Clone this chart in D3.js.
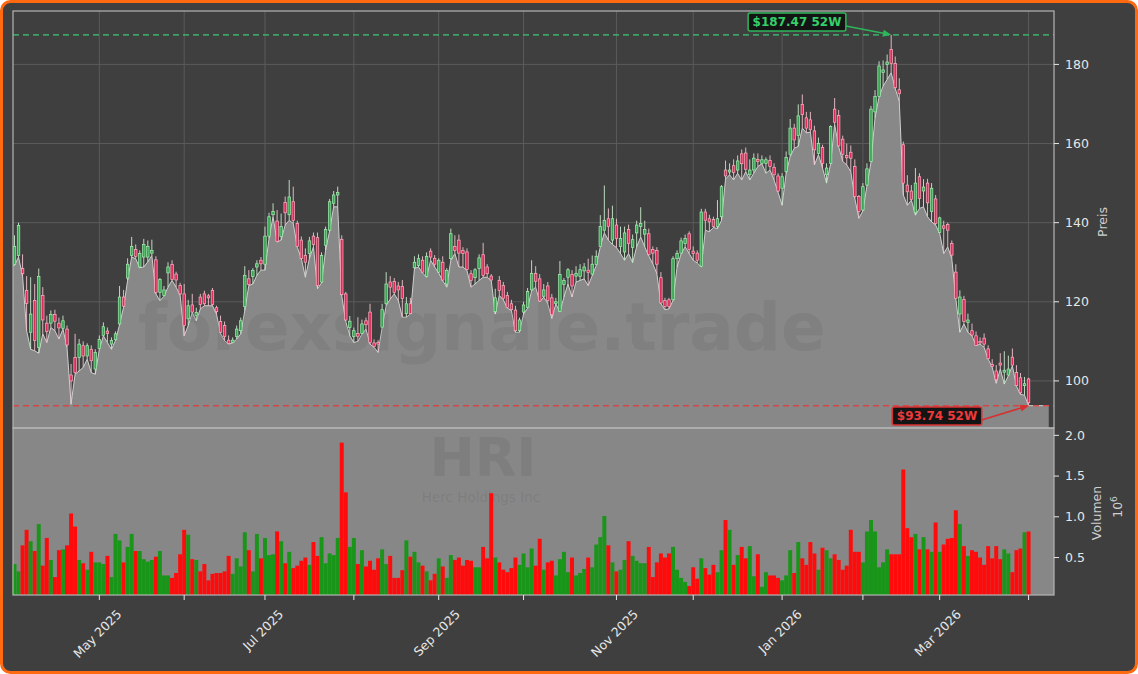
<!DOCTYPE html>
<html><head><meta charset="utf-8">
<script src="https://cdn.jsdelivr.net/npm/d3@7"></script>
<style>body{margin:0;background:#fff}svg{display:block}text{font-family:"DejaVu Sans",sans-serif}</style>
</head><body><svg id="c" width="1138" height="674"></svg>
<script>
// ---- data (HRI daily, 1 year) ----
const ticker = "HRI";
const companyName = "Herc Holdings Inc";
const watermarkText = "forexsignale.trade";
const startDate = "2025-04-01";
const holidays = ["2025-04-18","2025-05-26","2025-06-19","2025-07-04","2025-09-01","2025-11-27","2025-12-25","2026-01-01","2026-01-19","2026-02-16"];
const monthLabels = ["May 2025","Jul 2025","Sep 2025","Nov 2025","Jan 2026","Mar 2026"];
const priceTicks = [100,120,140,160,180];
const volumeTicks = [0.5,1.0,1.5,2.0];

const opens = [129.4,131.7,128.4,122.9,112.3,120.3,108.5,121.6,114.6,114.6,116.8,114.6,113.3,113.1,101.5,105.9,105.9,108.9,106.3,108.0,
103.0,108.2,111.5,112.6,109.3,110.4,114.4,121.2,126.0,131.7,133.2,128.8,131.3,131.3,132.3,130.6,122.4,121.6,127.3,129.4,
127.0,124.1,122.0,115.7,119.2,116.5,121.2,122.0,121.5,122.9,118.5,115.0,114.0,110.3,109.7,111.2,112.7,118.8,125.8,126.4,
128.8,130.5,129.5,136.6,142.0,140.4,136.5,145.1,142.0,145.3,139.8,135.6,131.7,132.2,136.6,136.2,125.0,134.3,138.1,144.9,
147.0,135.8,122.0,113.5,111.2,112.0,112.0,115.2,117.4,109.6,109.7,113.6,119.5,125.0,125.1,124.0,123.9,117.0,119.5,128.6,
129.2,130.5,126.4,132.8,131.0,127.5,130.0,124.5,130.9,134.0,135.6,133.0,132.6,127.1,126.1,128.4,131.9,128.8,126.5,117.5,
125.4,124.1,121.6,119.5,117.9,112.7,117.4,118.6,123.0,127.2,125.8,121.4,124.0,121.0,119.6,117.6,124.4,126.2,126.9,126.5,
126.4,127.8,128.0,127.0,129.4,134.0,138.1,141.0,135.6,139.4,134.0,132.6,138.3,133.7,137.4,139.0,137.1,137.2,133.2,133.0,
126.1,120.3,120.5,120.5,130.9,132.3,134.7,137.2,132.8,132.3,129.0,142.7,141.0,140.8,139.0,141.5,153.3,152.8,154.4,153.3,
157.4,157.6,152.1,153.3,156.0,155.0,155.0,155.7,154.0,151.8,148.7,152.9,157.3,163.9,162.0,169.9,166.5,166.0,163.2,157.5,
159.0,152.1,155.0,168.7,167.1,161.1,157.0,157.8,154.2,146.6,143.2,149.5,155.5,168.0,171.9,178.0,180.0,183.8,180.2,173.6,
159.7,149.5,148.0,142.5,151.6,148.0,150.0,142.8,146.0,137.5,139.2,139.5,134.7,127.5,116.9,120.6,114.8,112.7,111.4,110.0,
110.8,108.1,104.2,102.5,104.5,102.2,101.5,106.0,102.1,100.8,98.8,100.5];
const highs = [136.8,140.0,132.0,126.5,126.2,124.5,128.4,123.7,116.5,117.8,118.0,116.0,116.5,114.0,104.3,111.9,110.6,110.0,109.5,109.0,
108.0,111.5,114.8,113.5,111.0,112.5,124.0,123.0,131.0,136.4,134.5,133.0,135.9,135.5,135.7,131.5,126.0,124.0,130.0,130.5,
127.6,124.8,124.5,120.5,122.0,118.5,122.0,122.8,122.0,123.5,119.0,116.5,115.0,111.5,111.0,114.0,116.0,129.0,128.0,128.5,
130.5,131.3,139.0,142.5,144.9,143.2,142.3,146.6,150.8,149.1,140.5,136.5,133.5,136.4,137.5,137.5,132.5,139.0,146.0,148.0,
149.1,136.8,122.5,116.4,113.5,116.1,115.5,116.0,119.5,110.5,110.3,119.5,127.5,126.5,126.0,125.0,125.5,121.2,121.0,131.5,
132.0,131.5,132.5,133.5,131.8,131.0,131.5,128.5,138.5,136.8,137.0,133.8,133.5,128.0,128.5,132.0,134.9,129.5,127.0,123.3,
126.5,125.0,122.5,120.5,119.0,116.0,120.0,123.5,130.5,129.0,127.0,124.5,125.0,122.0,121.0,130.3,126.0,128.5,128.0,129.0,
129.5,129.8,130.9,131.7,133.0,141.9,149.4,143.6,144.3,141.0,139.0,139.0,139.5,137.0,140.5,143.9,140.5,138.5,134.0,133.8,
127.5,121.0,121.0,131.5,133.0,136.2,137.0,137.8,134.0,133.0,143.5,143.5,142.0,141.5,145.7,149.5,155.7,155.0,156.0,157.0,
158.5,159.0,156.0,157.5,157.5,157.0,156.5,157.0,155.0,152.5,152.5,158.0,166.2,165.0,169.9,172.4,168.0,168.0,164.5,161.5,
159.7,155.0,164.6,171.5,168.5,162.0,160.0,159.5,156.0,147.0,150.0,155.0,169.5,173.5,180.8,181.0,182.5,187.47,182.0,176.5,
160.5,152.0,149.5,153.8,152.5,151.0,151.1,150.0,147.0,141.5,140.5,140.0,135.5,129.5,122.9,121.5,117.0,114.5,112.5,111.0,
112.0,109.0,105.5,104.0,107.0,107.5,106.4,108.2,104.0,102.0,101.0,100.8];
const lows = [129.2,131.3,126.5,112.7,108.0,107.6,107.0,111.9,109.7,113.5,112.7,110.6,113.1,108.5,94.1,101.7,102.5,103.4,105.5,102.1,
101.7,108.0,111.4,109.7,108.0,110.2,114.2,118.6,125.4,131.3,130.9,128.6,128.8,130.1,131.7,122.0,120.3,121.4,123.7,125.4,
123.7,121.6,111.4,114.0,117.3,115.2,118.2,119.0,119.0,119.0,116.9,112.0,110.2,109.3,109.6,110.6,111.9,117.8,124.1,124.5,
126.7,128.0,128.0,136.0,141.5,135.1,135.6,139.4,140.6,139.8,133.8,130.9,126.2,130.9,133.9,123.3,124.8,133.0,137.9,144.0,
144.0,121.5,115.0,111.4,109.7,110.0,111.8,113.1,109.3,108.5,107.2,113.5,119.0,120.7,122.0,120.3,116.1,116.1,116.9,128.4,
128.8,127.3,126.2,130.5,128.8,127.3,125.3,123.7,130.5,132.2,128.8,128.8,127.9,123.7,124.5,125.4,126.2,126.2,125.4,116.9,
121.6,120.5,118.4,117.8,112.3,112.3,116.9,118.4,122.8,123.7,120.0,121.2,119.5,115.8,119.5,117.4,121.2,124.5,121.2,125.0,
125.4,125.8,124.1,126.6,129.2,133.9,137.4,135.6,134.5,133.7,132.2,130.5,132.2,129.9,133.9,136.4,133.9,131.6,129.6,127.1,
119.5,118.0,118.2,120.3,128.8,132.1,133.9,132.2,130.5,129.8,128.8,138.1,137.7,138.8,138.5,140.6,151.0,152.1,150.8,152.5,
150.8,152.9,150.8,152.5,154.2,154.9,152.5,153.3,150.8,147.7,144.4,152.5,156.7,158.8,159.3,163.9,162.7,162.9,154.6,157.2,
153.8,150.0,154.8,164.8,159.2,155.5,154.6,152.9,146.1,141.1,143.0,149.3,155.3,166.5,171.8,174.5,176.2,177.9,173.9,170.7,
147.0,144.4,145.7,141.9,143.6,144.0,141.5,140.2,139.4,137.3,132.2,133.9,130.9,120.8,112.3,114.4,112.3,111.4,108.9,109.3,
108.5,105.5,103.5,99.4,103.0,99.2,101.3,103.8,98.7,96.6,96.4,93.74];
const closes = [134.0,139.3,127.1,119.6,116.9,110.2,126.4,115.4,112.5,116.8,115.1,113.4,115.2,109.1,100.0,102.1,109.3,106.3,108.9,105.1,
107.2,110.5,113.7,112.0,110.2,111.9,121.2,118.9,129.5,134.0,131.5,132.2,134.5,134.0,133.0,122.4,125.6,123.0,128.8,125.6,
125.5,122.0,114.0,119.0,117.4,117.3,119.3,119.5,121.0,119.3,117.5,112.3,111.2,109.5,110.3,113.1,115.2,126.7,124.4,127.9,
129.6,129.6,136.6,141.5,142.8,135.3,139.0,142.5,146.5,140.6,134.0,130.9,130.0,135.4,134.5,124.1,131.7,138.3,145.3,147.0,
147.6,121.8,115.4,115.1,112.7,111.3,114.4,114.2,109.7,108.7,109.3,118.0,124.5,123.7,122.4,123.0,120.8,119.5,117.0,130.0,
130.9,127.5,131.5,131.3,129.5,130.5,125.5,127.9,137.2,133.0,132.3,132.2,128.2,125.4,128.1,131.1,126.7,127.1,125.5,121.0,
122.9,120.8,118.6,118.0,112.7,115.4,119.2,122.6,127.2,125.2,120.2,123.0,120.3,116.8,120.0,126.9,125.4,128.1,124.0,127.2,
128.1,128.8,127.4,129.5,131.5,139.0,140.6,139.0,141.0,136.0,136.0,137.4,134.7,135.7,139.4,139.8,138.3,131.9,132.3,129.5,
119.7,118.8,118.8,130.9,132.2,135.4,136.0,133.2,132.2,130.5,142.7,140.6,140.2,139.0,141.0,149.1,151.8,153.3,152.7,155.6,
154.9,153.5,153.3,156.3,155.5,155.9,155.9,154.2,152.1,148.0,151.6,156.5,163.9,160.9,167.0,167.3,163.9,163.5,158.4,160.0,
155.0,153.8,164.3,165.4,159.4,157.3,156.4,156.3,146.6,142.8,149.1,153.6,168.7,171.9,179.6,178.6,180.6,180.2,174.1,172.6,
150.0,147.8,145.9,150.0,146.1,149.0,145.0,148.7,139.8,141.2,138.6,138.1,131.8,120.9,121.2,115.0,115.4,111.6,109.0,109.6,
109.3,105.6,103.7,100.3,104.0,102.7,103.0,104.0,98.8,97.0,99.3,94.5];
// volume in millions of shares
const volumes = [0.42,0.33,0.65,0.84,0.70,0.58,0.91,0.40,0.74,0.47,0.26,0.59,0.60,0.65,1.04,0.88,0.47,0.43,0.35,0.57,
0.44,0.44,0.42,0.52,0.26,0.79,0.71,0.44,0.63,0.79,0.58,0.58,0.48,0.45,0.47,0.51,0.58,0.28,0.28,0.25,
0.31,0.54,0.84,0.78,0.48,0.47,0.33,0.42,0.22,0.30,0.31,0.31,0.33,0.52,0.30,0.49,0.39,0.81,0.59,0.33,
0.79,0.49,0.74,0.53,0.54,0.82,0.70,0.43,0.57,0.37,0.40,0.46,0.50,0.41,0.69,0.52,0.75,0.43,0.55,0.53,
0.74,1.91,1.30,0.63,0.74,0.42,0.59,0.39,0.46,0.35,0.49,0.60,0.42,0.52,0.25,0.25,0.345,0.71,0.51,0.57,
0.44,0.40,0.33,0.22,0.30,0.49,0.39,0.25,0.53,0.47,0.50,0.40,0.47,0.46,0.38,0.38,0.63,0.49,1.29,0.50,
0.44,0.35,0.32,0.37,0.50,0.41,0.55,0.38,0.61,0.40,0.73,0.35,0.44,0.46,0.28,0.48,0.57,0.32,0.50,0.28,
0.31,0.36,0.50,0.38,0.66,0.75,1.01,0.65,0.44,0.33,0.35,0.47,0.70,0.52,0.46,0.43,0.43,0.63,0.26,0.44,
0.55,0.50,0.55,0.63,0.35,0.25,0.20,0.15,0.38,0.24,0.49,0.37,0.29,0.41,0.32,0.59,0.96,0.84,0.41,0.53,
0.63,0.49,0.64,0.27,0.54,0.14,0.32,0.28,0.28,0.25,0.22,0.28,0.59,0.31,0.69,0.49,0.41,0.69,0.55,0.35,
0.62,0.59,0.49,0.54,0.47,0.35,0.40,0.84,0.57,0.57,0.44,0.82,0.96,0.82,0.38,0.44,0.60,0.54,0.54,0.54,
1.58,0.86,0.75,0.79,0.60,0.75,0.60,0.57,0.93,0.57,0.66,0.73,0.74,1.08,0.91,0.64,0.52,0.59,0.57,0.50,
0.41,0.64,0.49,0.64,0.48,0.60,0.55,0.32,0.59,0.61,0.81,0.82];

// ---- trading calendar ----
const parse = d3.timeParse("%Y-%m-%d"), fmtKey = d3.timeFormat("%Y-%m-%d");
const hol = new Set(holidays);
const dates = [];
for (let d = parse(startDate); dates.length < closes.length; d = d3.timeDay.offset(d, 1)) {
  const wd = d.getDay();
  if (wd !== 0 && wd !== 6 && !hol.has(fmtKey(d))) dates.push(d);
}
const rows = closes.map((c, i) => ({i, date: dates[i], o: opens[i], h: highs[i], l: lows[i], c, v: volumes[i]}));

// ---- layout ----
const W = 1138, H = 674;
const L = 13, R = 1054, PT = 11, PB = 428, VT = 428, VB = 595;
const svg = d3.select("#c");
const x = d3.scaleLinear().domain([-0.37, 257.3]).range([L, R]);
const yP = d3.scaleLinear().domain([88.1, 193.5]).range([PB, PT]);
const yV = d3.scaleLinear().domain([0.04, 2.09]).range([VB, VT]);
const step = x(1) - x(0);

const bgCol = "#3f3f3f", gridCol = "#5b5b5b", textCol = "#e6e6e6", spineCol = "#b4b4b4";

svg.append("rect").attr("x",1.5).attr("y",1.5).attr("width",W-3).attr("height",H-3)
  .attr("rx",9).attr("fill",bgCol).attr("stroke","#ff6a10").attr("stroke-width",3);

// month ticks
const monthIdx = rows.filter((r, k) => k > 0 && r.date.getMonth() !== rows[k-1].date.getMonth()).map(r => r.i);
const fmtMonth = d3.timeFormat("%b %Y");

// price panel grid
const gP = svg.append("g");
gP.selectAll("line.vg").data(monthIdx).join("line")
  .attr("x1", d => x(d)).attr("x2", d => x(d)).attr("y1", PT).attr("y2", PB)
  .attr("stroke", gridCol).attr("stroke-width", 1);
gP.selectAll("line.hg").data(priceTicks).join("line")
  .attr("x1", L).attr("x2", R).attr("y1", d => yP(d)).attr("y2", d => yP(d))
  .attr("stroke", gridCol).attr("stroke-width", 1);

// area of lows
const areaPts = [{i: -0.37, l: lows[0]}].concat(rows.map(r => ({i: r.i, l: r.l})), [{i: 256, l: lows[lows.length-1]}]);
const area = d3.area().x(d => x(d.i)).y0(PB).y1(d => yP(d.l));
gP.append("path").datum(areaPts).attr("d", area).attr("fill", "#888888");
gP.append("path").datum(areaPts).attr("d", d3.line().x(d => x(d.i)).y(d => yP(d.l)))
  .attr("fill", "none").attr("stroke", "#cfcfcf").attr("stroke-width", 1);

// watermark
svg.append("text").attr("x", 482).attr("y", 350).attr("text-anchor", "middle")
  .attr("font-size", 66).attr("font-weight", "bold").attr("fill", "#404040").attr("fill-opacity", 0.11)
  .text(watermarkText);

// 52W lines
const hi = d3.max(highs), lo = d3.min(lows);
const hiIdx = highs.indexOf(hi), loIdx = lows.indexOf(lo);
svg.append("line").attr("x1", L).attr("x2", R).attr("y1", yP(hi)).attr("y2", yP(hi))
  .attr("stroke", "#3cb36a").attr("stroke-width", 1.6).attr("stroke-dasharray", "6,4").attr("opacity", 0.85);
svg.append("line").attr("x1", L).attr("x2", R).attr("y1", yP(lo)).attr("y2", yP(lo))
  .attr("stroke", "#e03c3c").attr("stroke-width", 1.6).attr("stroke-dasharray", "6,4").attr("opacity", 0.85);

// candles
const up = r => r.c >= r.o;
const gC = svg.append("g");
gC.selectAll("line").data(rows).join("line")
  .attr("x1", r => x(r.i)).attr("x2", r => x(r.i)).attr("y1", r => yP(r.h)).attr("y2", r => yP(r.l))
  .attr("stroke", r => up(r) ? "#c9ebcd" : "#f2c4cf").attr("stroke-width", 0.9);
const bw = step * 0.62;
gC.selectAll("rect").data(rows).join("rect")
  .attr("x", r => x(r.i) - bw/2).attr("width", bw)
  .attr("y", r => yP(Math.max(r.o, r.c)))
  .attr("height", r => Math.max(1, Math.abs(yP(r.o) - yP(r.c))))
  .attr("fill", r => up(r) ? "#3aa655" : "#dc2c5a")
  .attr("stroke", r => up(r) ? "#a6eeb2" : "#ffb0c2").attr("stroke-width", 0.7);

// volume panel
svg.append("rect").attr("x", L).attr("y", VT).attr("width", R - L).attr("height", VB - VT).attr("fill", "#878787");
svg.append("text").attr("x", 483).attr("y", 476).attr("text-anchor", "middle")
  .attr("font-size", 54).attr("font-weight", "bold").attr("fill", "#404040").attr("fill-opacity", 0.12).text(ticker);
svg.append("text").attr("x", 481).attr("y", 502).attr("text-anchor", "middle")
  .attr("font-size", 13.5).attr("fill", "#404040").attr("fill-opacity", 0.14).text(companyName);
const vw = step * 0.98;
svg.append("g").selectAll("rect").data(rows).join("rect")
  .attr("x", r => x(r.i) - vw/2).attr("width", vw)
  .attr("y", r => yV(r.v)).attr("height", r => VB - yV(r.v))
  .attr("fill", r => up(r) ? "#199519" : "#ff0b0b");

// spines
const sp = svg.append("g").attr("fill", "none").attr("stroke", spineCol).attr("stroke-width", 1.2);
sp.append("rect").attr("x", L).attr("y", PT).attr("width", R - L).attr("height", PB - PT);
sp.append("rect").attr("x", L).attr("y", VT).attr("width", R - L).attr("height", VB - VT);

// y axes (right)
const axP = svg.append("g");
priceTicks.forEach(t => {
  axP.append("line").attr("x1", R).attr("x2", R + 5).attr("y1", yP(t)).attr("y2", yP(t)).attr("stroke", textCol);
  axP.append("text").attr("x", R + 11).attr("y", yP(t)).attr("dy", "0.35em").attr("font-size", 12.5)
    .attr("fill", textCol).text(t);
});
volumeTicks.forEach(t => {
  axP.append("line").attr("x1", R).attr("x2", R + 5).attr("y1", yV(t)).attr("y2", yV(t)).attr("stroke", textCol);
  axP.append("text").attr("x", R + 11).attr("y", yV(t)).attr("dy", "0.35em").attr("font-size", 12.5)
    .attr("fill", textCol).text(t.toFixed(1));
});
svg.append("text").attr("transform", "translate(1107,222) rotate(-90)").attr("text-anchor", "middle")
  .attr("font-size", 12.5).attr("fill", "#d0d0d0").text("Preis");
svg.append("text").attr("transform", "translate(1101,513) rotate(-90)").attr("text-anchor", "middle")
  .attr("font-size", 12.5).attr("fill", "#d0d0d0").text("Volumen");
const ex = svg.append("text").attr("transform", "translate(1122,507) rotate(-90)").attr("text-anchor", "middle")
  .attr("font-size", 12.5).attr("fill", "#d0d0d0");
ex.append("tspan").text("10");
ex.append("tspan").attr("dy", -5).attr("font-size", 9).text("6");

// x axis
const axX = svg.append("g");
monthIdx.forEach(mi => {
  axX.append("line").attr("x1", x(mi)).attr("x2", x(mi)).attr("y1", VB).attr("y2", VB + 5).attr("stroke", textCol);
  const lab = fmtMonth(dates[mi]);
  if (monthLabels.includes(lab)) {
    const t = axX.append("text").attr("font-size", 12.5).attr("fill", textCol)
      .attr("text-anchor", "middle").attr("dominant-baseline", "central").text(lab);
    const len = t.node().getComputedTextLength();
    const cy = 607 + (len + 14) * 0.7071 / 2;
    t.attr("transform", `translate(${x(mi) - 2},${cy}) rotate(-45)`);
  }
});

// annotations
function note(label, bx, by, tx, ty, col, txtCol) {
  const g = svg.append("g");
  const t = g.append("text").attr("x", bx).attr("y", by).attr("dy", "0.35em").attr("text-anchor", "middle")
    .attr("font-size", 12).attr("font-weight", "bold").attr("fill", txtCol).text(label);
  const w = t.node().getComputedTextLength() + 9, h = 18;
  g.insert("rect", "text").attr("x", bx - w/2).attr("y", by - h/2).attr("width", w).attr("height", h)
    .attr("rx", 2).attr("fill", "#141414").attr("stroke", col).attr("stroke-width", 1.5);
  const sx = bx + w/2, sy = by + 4;
  const ang = Math.atan2(ty - sy, tx - sx);
  g.append("line").attr("x1", sx).attr("y1", sy).attr("x2", tx - 8*Math.cos(ang)).attr("y2", ty - 8*Math.sin(ang))
    .attr("stroke", col).attr("stroke-width", 1.6);
  const a1 = ang + Math.PI - 0.4, a2 = ang + Math.PI + 0.4;
  g.append("path").attr("d", `M${tx},${ty}L${tx + 9*Math.cos(a1)},${ty + 9*Math.sin(a1)}L${tx + 9*Math.cos(a2)},${ty + 9*Math.sin(a2)}Z`)
    .attr("fill", col);
}
note(`$${hi.toFixed(2)} 52W`, 797, 22, x(hiIdx), yP(hi), "#2fb65c", "#34d06a");
note(`$${lo.toFixed(2)} 52W`, 937, 416, x(loIdx), yP(lo), "#d83030", "#ee3a3a");
</script></body></html>
